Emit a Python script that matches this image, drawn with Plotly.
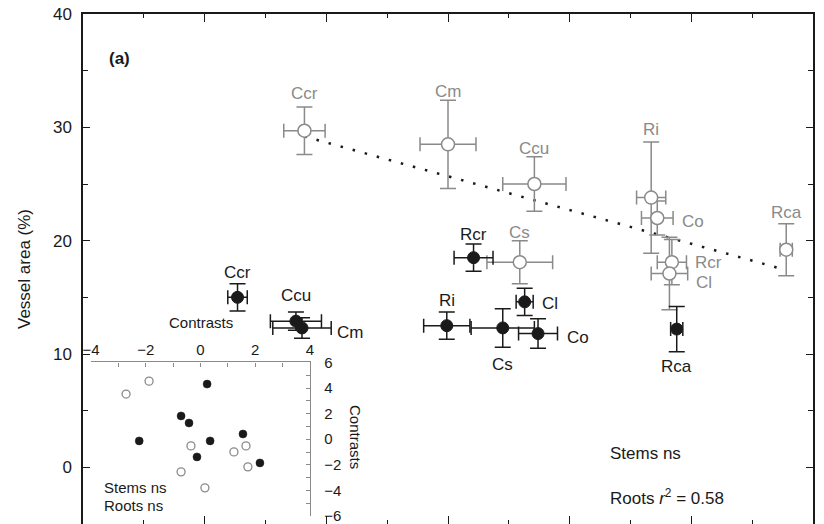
import numpy as np
import plotly.graph_objects as go

# ---------------- data ----------------
root_species = ["Ccr", "Cm", "Ccu", "Ri", "Co", "Rcr", "Cl", "Rca", "Cs"]
root_x = [18.2, 30.0, 37.1, 46.7, 47.2, 48.4, 48.2, 57.8, 35.9]
root_x_se = [1.7, 2.3, 2.6, 1.2, 1.3, 1.2, 1.5, 0.5, 2.7]
root_y = [29.7, 28.5, 25.0, 23.8, 22.0, 18.1, 17.1, 19.2, 18.1]
root_y_se = [2.1, 3.9, 2.4, 4.9, 1.5, 2.0, 3.2, 2.3, 1.9]

stem_species = ["Ccr", "Ccu", "Cm", "Rcr", "Cl", "Ri", "Cs", "Co", "Rca"]
stem_x = [12.7, 17.5, 18.0, 32.1, 36.3, 29.9, 34.5, 37.4, 48.8]
stem_x_se = [0.8, 2.1, 2.4, 1.6, 0.7, 1.9, 2.6, 1.6, 0.5]
stem_y = [15.0, 12.9, 12.3, 18.5, 14.6, 12.5, 12.3, 11.8, 12.2]
stem_y_se = [1.2, 0.8, 0.9, 1.2, 1.2, 1.2, 1.7, 1.3, 2.0]

# independent contrasts (inset)
root_cx = [-2.72, -1.88, -0.35, -0.71, 0.16, 1.22, 1.66, 1.73]
root_cy = [3.53, 4.54, -0.52, -2.55, -3.80, -0.99, -0.52, -2.16]
stem_cx = [0.24, -0.71, -0.42, -2.24, 0.35, 1.55, -0.13, 2.17]
stem_cy = [4.31, 1.82, 1.27, -0.13, -0.13, 0.41, -1.38, -1.85]

y_ticks = [0, 10, 20, 30, 40]
inset_x_ticks = [-4, -2, 0, 2, 4]
inset_y_ticks = [-6, -4, -2, 0, 2, 4, 6]

# ---------------- styles ----------------
GREY = "#8a8a8a"
BLACK = "#1a1a1a"
FONT = "Liberation Sans, Arial, Helvetica, sans-serif"

# label placement (anchor, x shift px, y shift px)
root_label_style = {
    "Ccr": ("center", 0, 37), "Cm": ("center", 0, 53), "Ccu": ("center", 0, 36),
    "Ri": ("center", 0, 68), "Co": ("left", 23, -3), "Rcr": ("left", 21, 0),
    "Cl": ("left", 25, -9), "Rca": ("center", 0, 37), "Cs": ("center", 0, 30),
}
stem_label_style = {
    "Ccr": ("center", 0, 25), "Ccu": ("center", 0, 26), "Cm": ("left", 33, -5),
    "Rcr": ("center", 0, 23), "Cl": ("left", 15, -2), "Ri": ("center", 0, 25),
    "Cs": ("center", 0, -37), "Co": ("left", 27, -4), "Rca": ("center", 0, -37),
}

fig = go.Figure()

# regression line through roots
rx = np.array(root_x)
ry = np.array(root_y)
slope, intercept = np.polyfit(rx, ry, 1)
lx = np.array([rx.min(), rx.max()])
fig.add_trace(go.Scatter(
    x=lx, y=slope * lx + intercept, mode="lines",
    line=dict(color=BLACK, width=2.5, dash="2.5px,10px"),
    hoverinfo="skip", showlegend=False))

# roots (grey, open)
fig.add_trace(go.Scatter(
    x=root_x, y=root_y, mode="markers", showlegend=False,
    marker=dict(symbol="circle", size=13, color="white",
                line=dict(color=GREY, width=1.5)),
    error_x=dict(type="data", array=root_x_se, color=GREY, thickness=1.5, width=7),
    error_y=dict(type="data", array=root_y_se, color=GREY, thickness=1.5, width=8),
))

# stems (black, filled)
fig.add_trace(go.Scatter(
    x=stem_x, y=stem_y, mode="markers", showlegend=False,
    marker=dict(symbol="circle", size=12, color=BLACK,
                line=dict(color=BLACK, width=1)),
    error_x=dict(type="data", array=stem_x_se, color=BLACK, thickness=1.5, width=7),
    error_y=dict(type="data", array=stem_y_se, color=BLACK, thickness=1.5, width=8),
))

# inset
fig.add_trace(go.Scatter(
    x=root_cx, y=root_cy, mode="markers", xaxis="x2", yaxis="y2", showlegend=False,
    marker=dict(symbol="circle", size=8, color="white", line=dict(color=GREY, width=1.3)),
))
fig.add_trace(go.Scatter(
    x=stem_cx, y=stem_cy, mode="markers", xaxis="x2", yaxis="y2", showlegend=False,
    marker=dict(symbol="circle", size=8, color=BLACK, line=dict(color=BLACK, width=0.5)),
))

annotations = []
for name, x, y in zip(root_species, root_x, root_y):
    anc, dx, dy = root_label_style[name]
    annotations.append(dict(x=x, y=y, xref="x", yref="y", text=name, showarrow=False,
                            xanchor=anc, yanchor="middle", xshift=dx, yshift=dy,
                            font=dict(size=17, color=GREY, family=FONT)))
for name, x, y in zip(stem_species, stem_x, stem_y):
    anc, dx, dy = stem_label_style[name]
    annotations.append(dict(x=x, y=y, xref="x", yref="y", text=name, showarrow=False,
                            xanchor=anc, yanchor="middle", xshift=dx, yshift=dy,
                            font=dict(size=17, color=BLACK, family=FONT)))

def paper_text(text, x, y, size=17, xanchor="left", **kw):
    d = dict(text=text, x=x, y=y, xref="paper", yref="paper", showarrow=False,
             xanchor=xanchor, yanchor="middle", font=dict(size=size, color=BLACK, family=FONT))
    d.update(kw)
    return d

annotations += [
    paper_text("<b>(a)</b>", 0.0329, 0.9137),
    paper_text("Stems ns", 0.719, 0.139),
    paper_text("Roots <i>r</i><sup>2</sup> = 0.58", 0.719, 0.0529),
    paper_text("Stems ns", 0.026, 0.0725, size=15),
    paper_text("Roots ns", 0.026, 0.0353, size=15),
    paper_text("Contrasts", 0.1616, 0.396, size=15, xanchor="center"),
    paper_text("Contrasts", 0.3726, 0.1706, size=15, xanchor="center", textangle=90),
]

fig.update_layout(
    width=824, height=524,
    margin=dict(l=75, r=19, t=6, b=8, autoexpand=False),
    paper_bgcolor="white", plot_bgcolor="rgba(0,0,0,0)",
    font=dict(family=FONT, color=BLACK, size=17),
    annotations=annotations,
    xaxis=dict(range=[0, 60], dtick=10, showticklabels=False, showgrid=False, zeroline=False,
               automargin=False,
               showline=True, linecolor=BLACK, linewidth=1.5, mirror="allticks",
               ticks="inside", ticklen=8, tickwidth=1.2, tickcolor=BLACK,
               minor=dict(dtick=5, ticks="inside", ticklen=4, tickwidth=1.2, tickcolor=BLACK)),
    yaxis=dict(range=[-5, 40], tickvals=y_ticks, showgrid=False, zeroline=False,
               automargin=False, ticklabeloverflow="allow",
               showline=True, linecolor=BLACK, linewidth=1.5, mirror="allticks",
               ticks="inside", ticklen=7, tickwidth=1.2, tickcolor=BLACK,
               minor=dict(dtick=5, ticks="inside", ticklen=5, tickwidth=1.2, tickcolor=BLACK),
               tickfont=dict(size=17), ticklabelstandoff=6,
               title=dict(text="Vessel area (%)", font=dict(size=17), standoff=18)),
    xaxis2=dict(domain=[0.011, 0.311], anchor="y2", side="top", range=[-4, 4],
                automargin=False, ticklabeloverflow="allow",
                tickvals=inset_x_ticks, showgrid=False, zeroline=False,
                showline=True, linecolor=GREY, linewidth=1.3,
                ticks="inside", ticklen=4, tickwidth=1, tickcolor=GREY,
                minor=dict(dtick=1, ticks="inside", ticklen=4, tickwidth=1, tickcolor=GREY),
                tickfont=dict(size=15, color=BLACK)),
    yaxis2=dict(domain=[0.0157, 0.3167], anchor="x2", side="right", range=[-6, 6],
                automargin=False, ticklabeloverflow="allow",
                tickvals=inset_y_ticks, showgrid=False, zeroline=False,
                showline=True, linecolor=GREY, linewidth=1.3,
                ticks="inside", ticklen=4, tickwidth=1, tickcolor=GREY,
                minor=dict(dtick=1, ticks="inside", ticklen=4, tickwidth=1, tickcolor=GREY),
                tickfont=dict(size=15, color=BLACK), ticklabelstandoff=10),
)

fig.write_html("out.html")
